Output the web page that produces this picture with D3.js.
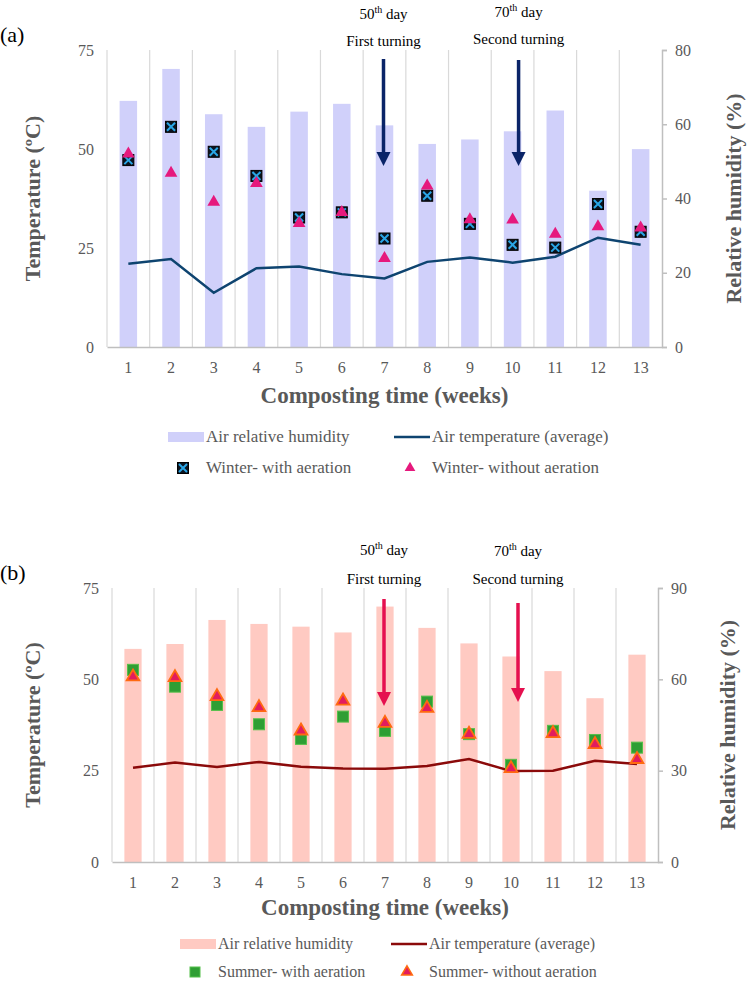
<!DOCTYPE html>
<html>
<head>
<meta charset="utf-8">
<script src="https://cdn.jsdelivr.net/npm/d3@7"></script>
<style>
  body { margin: 0; background: #fff; }
  svg { font-family: "Liberation Serif", "Times New Roman", serif; }
</style>
</head>
<body>
<script>
var W = 750, H = 986;

// weeks on the x axis
var weeks = [1, 2, 3, 4, 5, 6, 7, 8, 9, 10, 11, 12, 13];

// panel (a) winter
var humidityA = [66.3, 74.9, 62.7, 59.3, 63.4, 65.5, 59.7, 54.7, 55.9, 58.1, 63.7, 42.1, 53.3];
var airTempA = [21.0, 22.2, 13.7, 19.9, 20.3, 18.4, 17.3, 21.5, 22.6, 21.3, 22.8, 27.6, 25.8];
var winterAer = [47.2, 55.6, 49.3, 43.2, 32.7, 34.0, 27.4, 38.2, 31.1, 25.8, 25.1, 36.1, 29.1];
var winterNoAer = [48.8, 43.9, 36.6, 41.3, 31.2, 34.0, 22.4, 40.7, 32.2, 32.1, 28.5, 30.4, 30.1];

// panel (b) summer
var humidityB = [70.0, 71.6, 79.5, 78.2, 77.3, 75.4, 83.9, 76.9, 71.8, 67.5, 62.7, 53.8, 68.1];
var airTempB = [25.8, 27.2, 26.0, 27.4, 26.1, 25.6, 25.5, 26.3, 28.2, 24.9, 25.0, 27.7, 26.8];
var summerAer = [52.6, 48.0, 43.0, 37.7, 33.7, 39.8, 35.9, 43.9, 35.0, 26.6, 35.9, 33.4, 31.3];
var summerNoAer = [50.7, 50.5, 45.3, 42.3, 35.9, 44.1, 38.0, 42.1, 35.0, 25.6, 35.2, 32.2, 28.1];

var tempTicks = [0, 25, 50, 75];
var humTicksA = [0, 20, 40, 60, 80];
var humTicksB = [0, 30, 60, 90];

var svg = d3.select('body').append('svg')
    .attr('width', W)
    .attr('height', H);

var grey = '#595959';

function drawPanel(p) {
  var g = svg.append('g');
  var x = d3.scaleBand().domain(weeks).range([p.left, p.right]);
  var yT = d3.scaleLinear().domain([0, 75]).range([p.bottom, p.top]);
  var yH = d3.scaleLinear().domain([0, p.humMax]).range([p.bottom, p.top]);

  // vertical gridlines at category borders
  var borders = weeks.map(function(d){ return x(d); });
  g.selectAll('.grid').data(borders).enter().append('line')
    .attr('x1', function(d){ return d; })
    .attr('x2', function(d){ return d; })
    .attr('y1', p.top).attr('y2', p.bottom)
    .attr('stroke', '#d9d9d9').attr('stroke-width', 1.2);

  // humidity bars
  var bw = x.bandwidth() * 0.41;
  g.selectAll('.bar').data(p.hum).enter().append('rect')
    .attr('x', function(d, i){ return x(weeks[i]) + x.bandwidth() / 2 - bw / 2; })
    .attr('y', function(d){ return yH(d); })
    .attr('width', bw)
    .attr('height', function(d){ return p.bottom - yH(d); })
    .attr('fill', p.barColor);

  // x axis
  var xAxis = g.append('g').attr('transform', 'translate(0,' + p.bottom + ')')
    .call(d3.axisBottom(x).tickSize(0).tickPadding(15));
  xAxis.select('.domain').attr('stroke', '#bfbfbf').attr('stroke-width', 1.5);
  xAxis.selectAll('text').attr('font-size', 16).attr('fill', grey)
    .attr('font-family', '"Liberation Serif", serif');

  // left axis
  var lAxis = g.append('g').attr('transform', 'translate(' + p.left + ',0)')
    .call(d3.axisLeft(yT).tickValues(tempTicks).tickSize(0).tickPadding(13));
  lAxis.select('.domain').remove();
  lAxis.selectAll('text').attr('font-size', 16).attr('fill', grey)
    .attr('font-family', '"Liberation Serif", serif');

  // right axis
  var rAxis = g.append('g').attr('transform', 'translate(' + p.right + ',0)')
    .call(d3.axisRight(yH).tickValues(p.humTicks).tickSize(5).tickPadding(8));
  rAxis.select('.domain').attr('stroke', '#bfbfbf').attr('stroke-width', 1.5);
  rAxis.selectAll('.tick line').attr('stroke', '#bfbfbf').attr('stroke-width', 1.5);
  rAxis.selectAll('text').attr('font-size', 16).attr('fill', grey)
    .attr('font-family', '"Liberation Serif", serif');

  // air temperature line
  var line = d3.line()
    .x(function(d, i){ return x(weeks[i]) + x.bandwidth() / 2; })
    .y(function(d){ return yT(d); });
  g.append('path').datum(p.temp)
    .attr('d', line)
    .attr('fill', 'none')
    .attr('stroke', p.lineColor)
    .attr('stroke-width', 2.5);

  var cx = function(i){ return x(weeks[i]) + x.bandwidth() / 2; };

  // markers
  if (p.season === 'winter') {
    g.selectAll('.sq').data(p.aer).enter().append('g')
      .attr('transform', function(d, i){ return 'translate(' + cx(i) + ',' + yT(d) + ')'; })
      .each(function(){ drawWinterSquare(d3.select(this)); });
    g.selectAll('.tri').data(p.noAer).enter().append('path')
      .attr('transform', function(d, i){ return 'translate(' + cx(i) + ',' + yT(d) + ')'; })
      .attr('d', d3.symbol().type(d3.symbolTriangle).size(70))
      .attr('fill', '#e6197d');
  } else {
    g.selectAll('.sq').data(p.aer).enter().append('rect')
      .attr('x', function(d, i){ return cx(i) - 5.5; })
      .attr('y', function(d){ return yT(d) - 5.5; })
      .attr('width', 11).attr('height', 11)
      .attr('fill', '#2f9e34').attr('stroke', '#55c04a').attr('stroke-width', 1);
    g.selectAll('.tri').data(p.noAer).enter().append('path')
      .attr('transform', function(d, i){ return 'translate(' + cx(i) + ',' + yT(d) + ')'; })
      .attr('d', d3.symbol().type(d3.symbolTriangle).size(70))
      .attr('fill', '#e21c5e').attr('stroke', '#ff6a10').attr('stroke-width', 1.8);
  }

  // turning arrows
  p.arrows.forEach(function(a){
    var ax = cx(a.week - 1) + a.dx;
    g.append('line')
      .attr('x1', ax).attr('x2', ax)
      .attr('y1', a.y1).attr('y2', a.y2 - 12)
      .attr('stroke', p.arrowColor).attr('stroke-width', 3.5);
    g.append('path')
      .attr('d', 'M' + (ax - 7) + ',' + (a.y2 - 14) + 'L' + (ax + 7) + ',' + (a.y2 - 14) + 'L' + ax + ',' + a.y2 + 'Z')
      .attr('fill', p.arrowColor);
    var t1 = g.append('text').attr('x', ax).attr('y', a.ty1)
      .attr('text-anchor', 'middle').attr('font-size', 15).attr('fill', '#000');
    t1.append('tspan').text(a.day);
    t1.append('tspan').text('th').attr('font-size', 10).attr('dy', -6);
    t1.append('tspan').text(' day').attr('dy', 6);
    g.append('text').attr('x', ax).attr('y', a.ty2)
      .attr('text-anchor', 'middle').attr('font-size', 15).attr('fill', '#000')
      .text(a.label);
  });

  // panel letter
  g.append('text').attr('x', 0).attr('y', p.top - 8)
    .attr('font-size', 22).attr('fill', '#000').text(p.letter);

  // axis titles
  var midY = (p.top + p.bottom) / 2;
  g.append('text')
    .attr('transform', 'translate(' + p.lTitleX + ',' + midY + ') rotate(-90)')
    .attr('text-anchor', 'middle').attr('font-size', 22).attr('font-weight', 'bold')
    .attr('fill', grey).text('Temperature (ºC)');
  g.append('text')
    .attr('transform', 'translate(' + p.rTitleX + ',' + midY + ') rotate(-90)')
    .attr('text-anchor', 'middle').attr('font-size', 22).attr('font-weight', 'bold')
    .attr('fill', grey).text('Relative humidity (%)');
  g.append('text')
    .attr('x', (p.left + p.right) / 2).attr('y', p.xTitleY)
    .attr('text-anchor', 'middle').attr('font-size', 23).attr('font-weight', 'bold')
    .attr('fill', grey).text('Composting time (weeks)');

  // legend
  var L = p.legend;
  var fs = L.fs;
  g.append('rect').attr('x', L.t1 - 38).attr('y', L.y1 - 5).attr('width', 36).attr('height', 10)
    .attr('fill', p.barColor);
  g.append('text').attr('x', L.t1).attr('y', L.y1 + 5).attr('font-size', fs)
    .attr('fill', grey).text('Air relative humidity');
  g.append('line').attr('x1', L.t2 - 38).attr('x2', L.t2 - 2).attr('y1', L.y1).attr('y2', L.y1)
    .attr('stroke', p.lineColor).attr('stroke-width', 2.5);
  g.append('text').attr('x', L.t2).attr('y', L.y1 + 5).attr('font-size', fs)
    .attr('fill', grey).text('Air temperature (average)');

  if (p.season === 'winter') {
    drawWinterSquare(g.append('g').attr('transform', 'translate(' + (L.t1 - 23) + ',' + L.y2 + ')'));
    g.append('path').attr('transform', 'translate(' + (L.t2 - 22) + ',' + L.y2 + ')')
      .attr('d', d3.symbol().type(d3.symbolTriangle).size(50)).attr('fill', '#e6197d');
  } else {
    g.append('rect').attr('x', L.t1 - 28).attr('y', L.y2 - 5).attr('width', 10).attr('height', 10)
      .attr('fill', '#2f9e34').attr('stroke', '#55c04a');
    g.append('path').attr('transform', 'translate(' + (L.t2 - 22) + ',' + L.y2 + ')')
      .attr('d', d3.symbol().type(d3.symbolTriangle).size(50))
      .attr('fill', '#e21c5e').attr('stroke', '#ff6a10').attr('stroke-width', 1.5);
  }
  g.append('text').attr('x', L.t1).attr('y', L.y2 + 5).attr('font-size', fs)
    .attr('fill', grey).text(p.aerLabel);
  g.append('text').attr('x', L.t2).attr('y', L.y2 + 5).attr('font-size', fs)
    .attr('fill', grey).text(p.noAerLabel);
}

function drawWinterSquare(sel) {
  sel.append('rect').attr('x', -5.5).attr('y', -5.5).attr('width', 11).attr('height', 11)
    .attr('fill', '#0b1420').attr('stroke', '#000').attr('stroke-width', 1);
  sel.append('path').attr('d', 'M-4,-4L4,4M-4,4L4,-4')
    .attr('stroke', '#2aa6e6').attr('stroke-width', 2);
}

drawPanel({
  season: 'winter', letter: '(a)',
  left: 107, right: 662, top: 50, bottom: 347,
  humMax: 80, humTicks: humTicksA,
  hum: humidityA, temp: airTempA, aer: winterAer, noAer: winterNoAer,
  barColor: '#d0d0fa', lineColor: '#0e4470', arrowColor: '#0a2468',
  arrows: [
    {week: 7, dx: -1, y1: 59, y2: 166, day: '50', label: 'First turning', ty1: 19, ty2: 46},
    {week: 10, dx: 6, y1: 60, y2: 166, day: '70', label: 'Second turning', ty1: 17, ty2: 44}
  ],
  lTitleX: 40, rTitleX: 741, xTitleY: 403,
  legend: {t1: 206, t2: 432, y1: 437, y2: 468, fs: 17},
  aerLabel: 'Winter- with aeration', noAerLabel: 'Winter- without aeration'
});

drawPanel({
  season: 'summer', letter: '(b)',
  left: 112, right: 658, top: 588, bottom: 862,
  humMax: 90, humTicks: humTicksB,
  hum: humidityB, temp: airTempB, aer: summerAer, noAer: summerNoAer,
  barColor: '#ffcac2', lineColor: '#8b0a0a', arrowColor: '#e5104f',
  arrows: [
    {week: 7, dx: -1, y1: 599, y2: 706, day: '50', label: 'First turning', ty1: 555, ty2: 584},
    {week: 10, dx: 7, y1: 603, y2: 702, day: '70', label: 'Second turning', ty1: 556, ty2: 584}
  ],
  lTitleX: 40, rTitleX: 735, xTitleY: 915,
  legend: {t1: 218, t2: 429, y1: 944, y2: 972, fs: 16},
  aerLabel: 'Summer- with aeration', noAerLabel: 'Summer- without aeration'
});
</script>
</body>
</html>
